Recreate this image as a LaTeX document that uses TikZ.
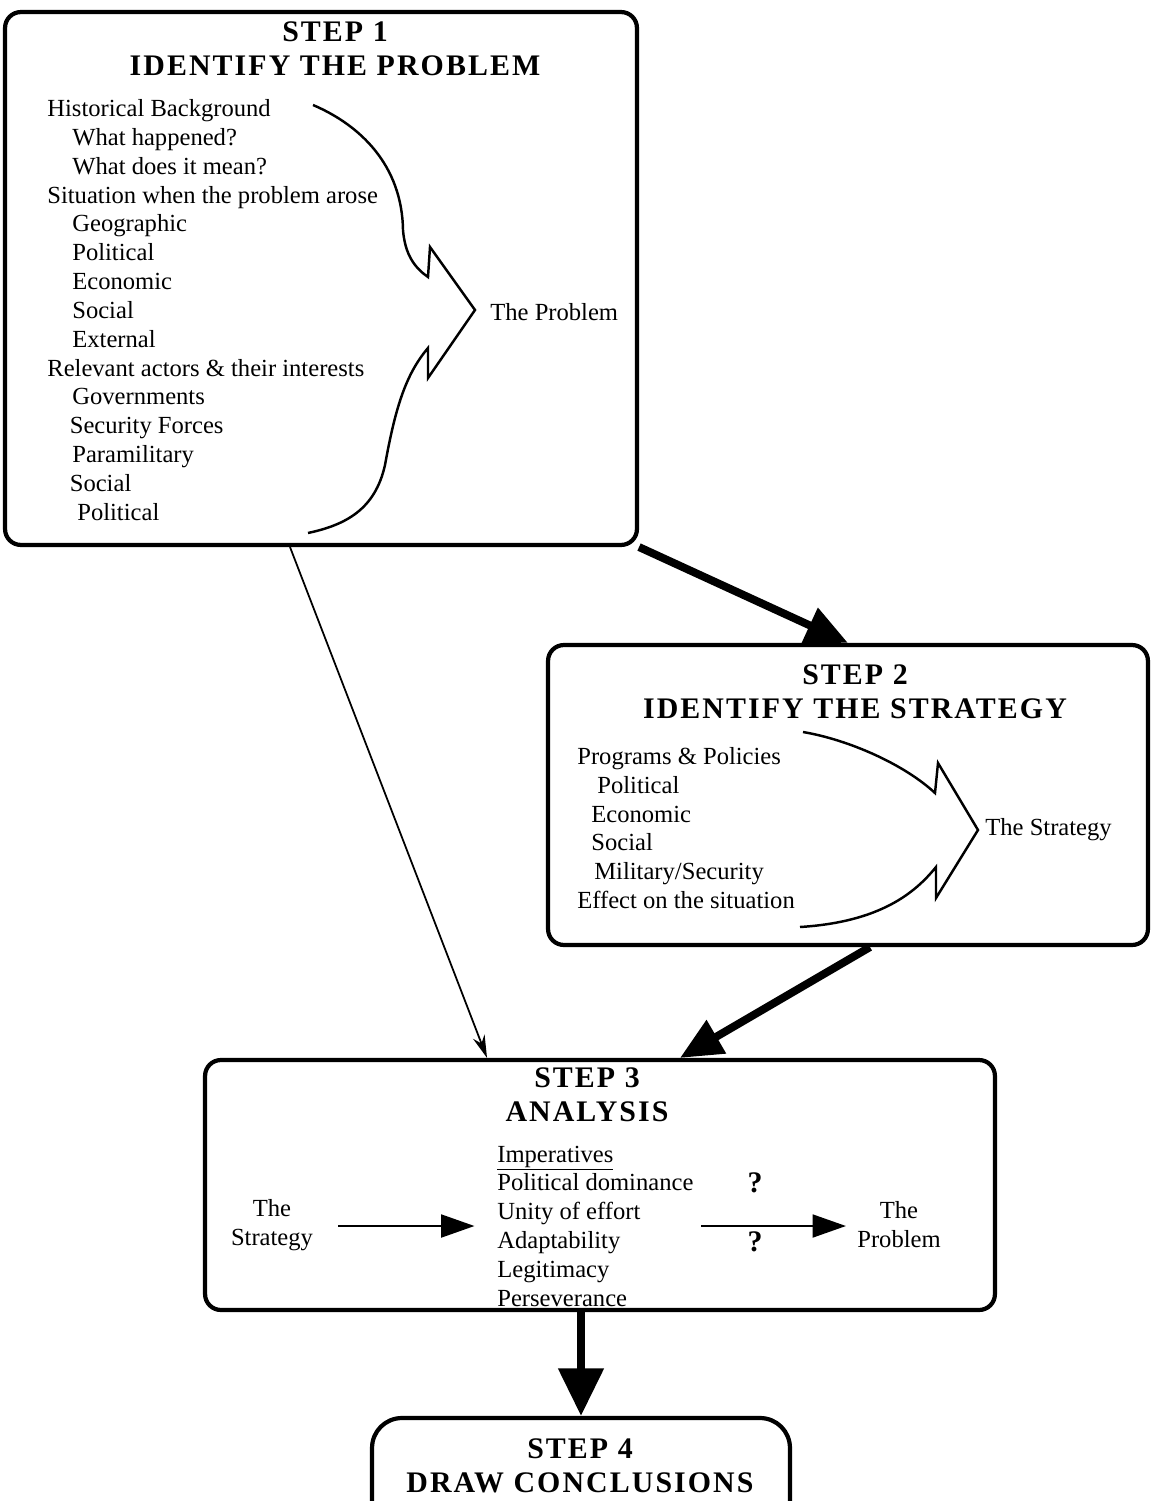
\documentclass[tikz,border=0pt]{standalone}
\usepackage{fontspec}
\setmainfont{Liberation Serif}
\newfontfamily\headfont[LetterSpace=7]{Liberation Serif}
\usetikzlibrary{arrows.meta,positioning}
\tikzset{
  stepbox/.style={draw=black, line width=2.4pt, rectangle, rounded corners=9pt, fill=none},
  headline/.style={align=center, inner sep=0pt, font=\headfont\bfseries\fontsize{17}{19.5}\selectfont},
  itemlist/.style={align=left, anchor=west, inner sep=0pt, font=\fontsize{14}{16.4}\selectfont},
  sidetext/.style={align=center, inner sep=0pt, font=\fontsize{14}{16.5}\selectfont},
  bigflow/.style={-{Triangle[length=24pt,width=21pt]}, line width=4.5pt, draw=black},
  thinflow/.style={-{Stealth[length=13pt,width=7pt]}, line width=1pt, draw=black},
  midflow/.style={-{Triangle[length=19pt,width=13pt]}, line width=1.4pt, draw=black},
  funnel/.style={line width=1.4pt, line join=miter, draw=black}
}

\begin{document}
\begin{tikzpicture}[x=0.02cm, y=-0.02cm]
  \useasboundingbox (0,0) rectangle (1151,1501);
  \clip (0,0) rectangle (1151,1501);

  % boxes
  \node[stepbox, minimum width=12.64cm, minimum height=10.66cm] (step1) at (321,278.5) {};
  \node[stepbox, minimum width=12cm, minimum height=6cm] (step2) at (848,795) {};
  \node[stepbox, minimum width=15.8cm, minimum height=5cm] (step3) at (600,1185) {};
  \node[stepbox, rounded corners=17pt, minimum width=8.36cm, minimum height=2.44cm] (step4) at (581,1479) {};

  % titles
  \node[headline] (title1) at (335,49) {STEP 1\\IDENTIFY THE PROBLEM};
  \node[headline] (title2) at (855,692) {STEP 2\\IDENTIFY THE STRATEGY};
  \node[headline] (title3) at (587,1095) {STEP 3\\ANALYSIS};
  \node[headline] (title4) at (580,1466) {STEP 4\\DRAW CONCLUSIONS};

  % step 1
  \node[itemlist] (list1) at (47,310) {Historical Background\\
    \hspace*{0.5cm}What happened?\\
    \hspace*{0.5cm}What does it mean?\\
    Situation when the problem arose\\
    \hspace*{0.5cm}Geographic\\
    \hspace*{0.5cm}Political\\
    \hspace*{0.5cm}Economic\\
    \hspace*{0.5cm}Social\\
    \hspace*{0.5cm}External\\
    Relevant actors \& their interests\\
    \hspace*{0.5cm}Governments\\
    \hspace*{0.45cm}Security Forces\\
    \hspace*{0.5cm}Paramilitary\\
    \hspace*{0.45cm}Social\\
    \hspace*{0.6cm}Political};
  \node[itemlist] (prob1) at (490,312) {The Problem};
  \draw[funnel] (313,105) .. controls (360,125) and (402,165) .. (403,230)
    .. controls (405,255) and (415,268) .. (428,277) -- (430,247) -- (475,310)
    -- (428,378) -- (428,348) .. controls (405,375) and (395,410) .. (385,465)
    .. controls (375,510) and (345,525) .. (308,533);

  % step 2
  \node[itemlist] (list2) at (577,828) {Programs \& Policies\\
    \hspace*{0.4cm}Political\\
    \hspace*{0.28cm}Economic\\
    \hspace*{0.28cm}Social\\
    \hspace*{0.34cm}Military/Security\\
    Effect on the situation};
  \node[itemlist] (strat2) at (985,830) {The Strategy};
  \draw[funnel] (803,732) .. controls (850,740) and (905,765) .. (935,793)
    -- (938,763) -- (978,830) -- (936,898) -- (936,867)
    .. controls (915,893) and (880,922) .. (800,927);

  % step 3
  \node[sidetext] (strat3) at (272,1225) {The\\Strategy};
  \node[itemlist] (imper) at (497,1226) {\underline{Imperatives}\\
    Political dominance\\
    Unity of effort\\
    Adaptability\\
    Legitimacy\\
    Perseverance};
  \node[sidetext] (prob3) at (899,1225) {The\\Problem};
  \node[headline] (ask1) at (755,1183) {?};
  \node[headline] (ask2) at (755,1242) {?};
  \draw[midflow, shorten <=0.5cm, shorten >=0.45cm] (strat3.east |- imper.west) -- (imper.west);
  \draw[midflow, shorten <=0.15cm, shorten >=0.22cm] (imper.east) -- (prob3.west |- imper.east);

  % connectors
  \draw[bigflow] (step1.south east) -- (step2.north);
  \draw[thinflow] ([xshift=-0.62cm]step1.south) -- ([xshift=-2.26cm]step3.north);
  \draw[bigflow] ([xshift=0.44cm]step2.south) -- ([xshift=1.6cm]step3.north);
  \draw[bigflow, -{Triangle[length=27pt,width=25pt]}] (step3.south -| step4.north) -- (step4.north);
\end{tikzpicture}
\end{document}
